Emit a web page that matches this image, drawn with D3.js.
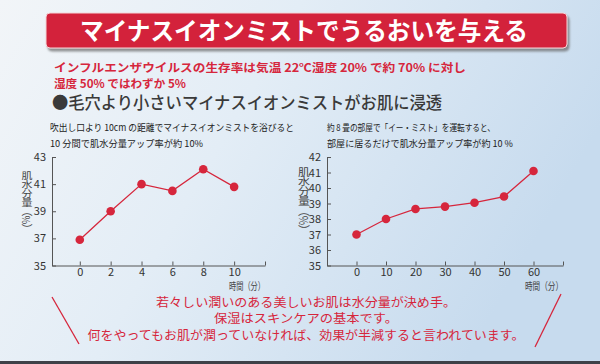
<!DOCTYPE html>
<html><head><meta charset="utf-8">
<script src="https://cdn.jsdelivr.net/npm/d3@7"></script>
<style>
html,body{margin:0;padding:0;}
svg{display:block;}
</style></head>
<body>
<svg id="c" width="600" height="364"></svg>
<script>
const title = "マイナスイオンミストでうるおいを与える";
const redLines = ["インフルエンザウイルスの生存率は気温 22℃湿度 20% で約 70% に対し","湿度 50% ではわずか 5%"];
const heading = "●毛穴より小さいマイナスイオンミストがお肌に浸透";
const footLines = ["若々しい潤いのある美しいお肌は水分量が決め手。","保湿はスキンケアの基本です。","何をやってもお肌が潤っていなければ、効果が半減すると言われています。"];

const leftCaption = ["吹出し口より 10cm の距離でマイナスイオンミストを浴びると","10 分間で肌水分量アップ率が約 10%"];
const leftX = [0,2,4,6,8,10];
const leftY = [36.9,39.0,41.0,40.5,42.1,40.8];
const leftYTicks = [35,37,39,41,43];

const rightCaption = ["約 8 畳の部屋で「イー・ミスト」を運転すると、","部屋に居るだけで肌水分量アップ率が約 10 %"];
const rightX = [0,10,20,30,40,50,60];
const rightY = [37.0,38.0,38.65,38.8,39.05,39.45,41.1];
const rightYTicks = [35,36,37,38,39,40,41,42];

const yLabel = "肌水分量（%）";
const xLabel = "時間（分）";

const FONT = "'Noto Sans CJK JP','Noto Sans',sans-serif";
const RED = "#d6263c";
const svg = d3.select("#c");
const defs = svg.append("defs");

// background
const bg = defs.append("linearGradient").attr("id","bg").attr("x1","0").attr("y1","0").attr("x2","1").attr("y2","0.35");
bg.append("stop").attr("offset","0").attr("stop-color","#f2f5f8");
bg.append("stop").attr("offset","0.45").attr("stop-color","#e3edf6");
bg.append("stop").attr("offset","1").attr("stop-color","#c7dbee");
svg.append("rect").attr("width",600).attr("height",364).attr("fill","url(#bg)");
svg.append("rect").attr("y",361).attr("width",600).attr("height",3).attr("fill","#3e4148");

// title banner
const sh = defs.append("filter").attr("id","sh").attr("x","-5%").attr("y","-20%").attr("width","110%").attr("height","160%");
sh.append("feDropShadow").attr("dx",2).attr("dy",3).attr("stdDeviation",1.2).attr("flood-color","#666").attr("flood-opacity",0.7);
svg.append("rect").attr("x",46).attr("y",13).attr("width",521).attr("height",35).attr("rx",4)
  .attr("fill","#d3233a").attr("stroke","#f4d4d8").attr("stroke-width",1).attr("filter","url(#sh)");
svg.append("text").attr("x",304).attr("y",40).attr("text-anchor","middle")
  .attr("font-family",FONT).attr("font-weight",700).attr("font-size",24.5).attr("fill","#fff")
  .attr("textLength",448).attr("lengthAdjust","spacingAndGlyphs").text(title);

svg.selectAll("text.red").data(redLines).join("text").attr("class","red")
  .attr("x",54).attr("y",(d,i)=>72+i*15.5).attr("font-family",FONT).attr("font-weight",700)
  .attr("font-size",11.6).attr("fill",RED)
  .attr("textLength",(d,i)=>i===0?412:null).attr("lengthAdjust","spacingAndGlyphs")
  .text(d=>d);
svg.append("text").attr("x",52).attr("y",109).attr("font-family",FONT).attr("font-weight",500)
  .attr("font-size",17).attr("fill","#3a3a3a").attr("textLength",390).attr("lengthAdjust","spacingAndGlyphs").text(heading);

function chart(opt){
  const g = svg.append("g");
  g.selectAll("text.cap").data(opt.caption).join("text").attr("class","cap")
    .attr("x",opt.capX).attr("y",(d,i)=>131+i*15.5).attr("font-family",FONT).attr("font-size",9.5)
    .attr("fill","#222").attr("textLength",(d,i)=>opt.capLen[i]).attr("lengthAdjust","spacingAndGlyphs").text(d=>d);
  const x = d3.scaleLinear().domain(opt.xDomain).range([opt.x0,opt.x1]);
  const y = d3.scaleLinear().domain(opt.yDomain).range([265.5,157]);
  const axisColor = "#555";
  const yAx = g.append("g").attr("transform",`translate(${opt.x0},0)`)
    .call(d3.axisLeft(y).tickValues(opt.yTicks).tickSizeInner(-4).tickSizeOuter(0).tickPadding(6).tickFormat(d3.format("d")));
  const xAx = g.append("g").attr("transform",`translate(0,265.5)`)
    .call(d3.axisBottom(x).tickValues(opt.xTicks).tickSizeInner(-4).tickSizeOuter(0).tickPadding(3)
      .tickFormat(d=>opt.xLabels.includes(d)?d:""));
  [yAx,xAx].forEach(a=>{
    a.selectAll("path,line").attr("stroke",axisColor).attr("stroke-width",1);
    a.selectAll("text").attr("font-family",FONT).attr("font-size",11).attr("fill","#333");
  });
  xAx.selectAll("text").attr("y",3).attr("dy","0.71em");
  const pts = opt.xs.map((v,i)=>[v,opt.ys[i]]);
  g.append("path").datum(pts).attr("fill","none").attr("stroke",RED).attr("stroke-width",1.3)
    .attr("d",d3.line().x(d=>x(d[0])).y(d=>y(d[1])));
  g.selectAll("circle").data(pts).join("circle").attr("cx",d=>x(d[0])).attr("cy",d=>y(d[1]))
    .attr("r",4.3).attr("fill",RED);
  // vertical y label
  g.append("text").attr("x",opt.ylX).attr("y",opt.ylY)
    .attr("font-family",FONT).attr("font-size",opt.ylSize).attr("fill","#444")
    .style("writing-mode","vertical-rl")
    .attr("textLength",opt.ylLen).attr("lengthAdjust","spacingAndGlyphs")
    .text(yLabel);
  g.append("text").attr("x",opt.x1).attr("y",290).attr("text-anchor","end").attr("font-family",FONT)
    .attr("font-size",10.5).attr("fill","#444").attr("textLength",opt.xlLen).attr("lengthAdjust","spacingAndGlyphs").text(xLabel);
}

chart({caption:leftCaption,capX:50,capLen:[244,153],xDomain:[-1.8,12],x0:52,x1:265,yDomain:[35,43],
  xTicks:[0,2,4,6,8,10,12],xLabels:[0,2,4,6,8,10],yTicks:leftYTicks,xs:leftX,ys:leftY,
  ylX:27,ylY:171,ylSize:11,ylLen:62,xlLen:36});
chart({caption:rightCaption,capX:327,capLen:[168,186],xDomain:[-10,70],x0:327,x1:563,yDomain:[35,42],
  xTicks:[0,10,20,30,40,50,60,70],xLabels:[0,10,20,30,40,50,60],yTicks:rightYTicks,xs:rightX,ys:rightY,
  ylX:304,ylY:167,ylSize:12,ylLen:68,xlLen:38});

const footLen = [300,184,437];
svg.selectAll("text.foot").data(footLines).join("text").attr("class","foot")
  .attr("x",306).attr("y",(d,i)=>306.5+i*16.5).attr("text-anchor","middle").attr("font-family",FONT)
  .attr("font-size",12.4).attr("fill",RED)
  .attr("textLength",(d,i)=>footLen[i]).attr("lengthAdjust","spacingAndGlyphs").text(d=>d);
svg.append("line").attr("x1",52).attr("y1",297).attr("x2",79).attr("y2",344).attr("stroke",RED).attr("stroke-width",1.3);
svg.append("line").attr("x1",561).attr("y1",294).attr("x2",535).attr("y2",347).attr("stroke",RED).attr("stroke-width",1.3);
</script>
</body></html>
